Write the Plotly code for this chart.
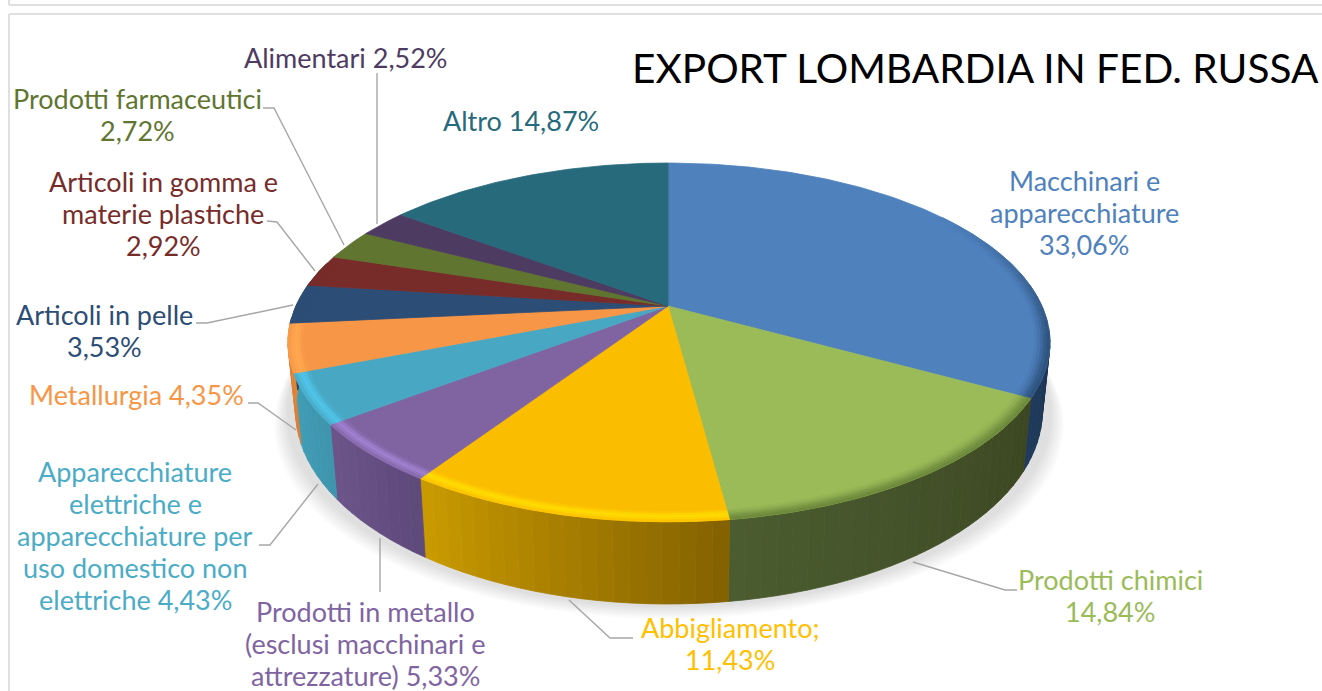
import math
import plotly.graph_objects as go

# ---------- data ----------
categories = ["Macchinari e apparecchiature", "Prodotti chimici", "Abbigliamento",
              "Prodotti in metallo (esclusi macchinari e attrezzature)",
              "Apparecchiature elettriche e apparecchiature per uso domestico non elettriche",
              "Metallurgia", "Articoli in pelle", "Articoli in gomma e materie plastiche",
              "Prodotti farmaceutici", "Alimentari", "Altro"]
values = [33.06, 14.84, 11.43, 5.33, 4.43, 4.35, 3.53, 2.92, 2.72, 2.52, 14.87]
label_templates = ["Macchinari e<br>apparecchiature<br>{}%", "Prodotti chimici<br>{}%",
                   "Abbigliamento;<br>{}%", "Prodotti in metallo<br>(esclusi macchinari e<br>attrezzature) {}%",
                   "Apparecchiature<br>elettriche e<br>apparecchiature per<br>uso domestico non<br>elettriche {}%",
                   "Metallurgia {}%", "Articoli in pelle<br>{}%", "Articoli in gomma e<br>materie plastiche<br>{}%",
                   "Prodotti farmaceutici<br>{}%", "Alimentari {}%", "Altro {}%"]
title_text = "EXPORT LOMBARDIA IN FED. RUSSA"

# ---------- style ----------
top_colors = ["#4F81BD", "#9BBB59", "#FBBD00", "#8064A2", "#48A8C3", "#F79646",
              "#2C4D75", "#772C2A", "#5F7530", "#4D3B62", "#276A7C"]
label_colors = ["#4F81BD", "#9BBB59", "#FFC000", "#8064A2", "#4BACC6", "#F79646",
                "#2C4D75", "#772C2A", "#5F7530", "#4D3B62", "#276A7C"]
side_left = ["#1F3A5C", "#4B5C30", "#C99A00", "#6C5489", "#3F9DB6", "#E0853C",
             "#1F3A5C", "#5A2120", "#47581F", "#3A2C4A", "#1D505E"]
side_right = ["#1C3350", "#3C4722", "#856200", "#5F4A7C", "#3F95AE", "#D97F38",
              "#1F3A5C", "#5A2120", "#47581F", "#3A2C4A", "#1D505E"]
rim_colors = ["#2F5480", "#6E8A3C", "#FFDC00", "#A080D0", "#50C4E8", "#FFA850",
              "#2C4D75", "#772C2A", "#5F7530", "#4D3B62", "#276A7C"]
rim_peak = [False, False, True, True, True, True, False, False, False, False, False]

FONT = "Lato"
LABEL_SIZE = 27
LINE_PITCH = 32
CX, CY, RX, RY, K = 668, 306, 374, 172, 0.203
LEFT_SCALE = 0.995
label_pos = [(1084, 212), (1110, 595), (730, 643), (365, 643), (135, 535), (136, 394),
             (104, 330), (163, 213), (137, 114), (346, 57), (521, 120)]
leaders = [[(377, 73), (377, 224)],
           [(263, 108), (274, 108), (344, 245)],
           [(267, 221), (277, 222), (315, 271)],
           [(196, 323), (207, 323), (293, 305)],
           [(248, 403), (258, 403), (296, 430)],
           [(259, 545), (270, 545), (318, 484)],
           [(380, 538), (380, 592)],
           [(569, 600), (610, 638), (633, 638)],
           [(913, 562), (1005, 590), (1017, 590)]]


def hex2rgb(c):
    return tuple(int(c[i:i + 2], 16) for i in (1, 3, 5))


def mix(a, b, t):
    ra, rb = hex2rgb(a), hex2rgb(b)
    return "#%02X%02X%02X" % tuple(round(x + (y - x) * t) for x, y in zip(ra, rb))


def top(deg, r=1.0):
    a = math.radians(deg)
    u, v = r * math.sin(a), r * math.cos(a)
    d = 1 + K * v
    sx = RX * (LEFT_SCALE if u < 0 else 1.0)
    return CX + sx * u / d, CY - RY * v / d


def bottom(deg, grow=0.0, drop=0.0):
    x, y = top(deg)
    return CX + (x - CX) * (0.98 + grow), y * 1.077 + 42 + drop


def arc(a0, a1, step=1.0):
    n = max(2, int(abs(a1 - a0) / step) + 1)
    return [a0 + (a1 - a0) * i / (n - 1) for i in range(n)]


fig = go.Figure()


def poly(pts, color, opacity=1.0, seam=True):
    fig.add_trace(go.Scatter(
        x=[p[0] for p in pts] + [pts[0][0]], y=[p[1] for p in pts] + [pts[0][1]],
        mode="lines", fill="toself", fillcolor=color, opacity=opacity,
        line=dict(color=color, width=0.8 if seam else 0),
        hoverinfo="skip", showlegend=False))


total = sum(values)
edges = [0.0]
for v in values:
    edges.append(edges[-1] + v / total * 360)

# soft shadow
for i in range(8):
    e = (8 - i) * 0.0045
    poly([bottom(d, grow=0.02 + e, drop=2 + (8 - i) * 1.6) for d in arc(0, 360, 3)],
         "#000000", opacity=0.016, seam=False)

# side wall, visible front part only
VIS0, VIS1 = 97.0, 266.0
for i in range(len(values)):
    a0, a1 = max(edges[i], VIS0), min(edges[i + 1], VIS1)
    if a1 <= a0:
        continue
    cuts = arc(a0, a1, 2.0)
    for j in range(len(cuts) - 1):
        t = j / max(1, len(cuts) - 2)
        s = [cuts[j], cuts[j + 1]]
        pts = [top(d) for d in s] + [bottom(d) for d in reversed(s)]
        poly(pts, mix(side_right[i], side_left[i], t))

# top face
for i in range(len(values)):
    pts = [(CX, CY)] + [top(d) for d in arc(edges[i], edges[i + 1])]
    poly(pts, top_colors[i], seam=True)


def taper(d):
    return max(0.0, min(1.0, (d - 55) / 45, (285 - d) / 25))


# bevelled rim, fading out towards the back of the disc
bands = [0.962, 0.970, 0.978, 0.985, 0.993, 1.0]
for i in range(len(values)):
    a0, a1 = max(edges[i], 55.0), min(edges[i + 1], 285.0)
    if a1 <= a0:
        continue
    profile = [0.25, 0.75, 1.0, 0.7, 0.3] if rim_peak[i] else [0.1, 0.3, 0.55, 0.8, 1.0]
    cuts = arc(a0, a1, 4.0)
    for b in range(5):
        for j in range(len(cuts) - 1):
            s = arc(cuts[j], cuts[j + 1], 1.0)
            w = taper((cuts[j] + cuts[j + 1]) / 2) * profile[b]
            pts = [top(d, bands[b + 1]) for d in s] + [top(d, bands[b]) for d in reversed(s)]
            poly(pts, mix(top_colors[i], rim_colors[i], w))

# leader lines
for seg in leaders:
    fig.add_trace(go.Scatter(x=[p[0] for p in seg], y=[p[1] for p in seg], mode="lines",
                             line=dict(color="#A6A6A6", width=1.4),
                             hoverinfo="skip", showlegend=False))

# labels, one annotation per line to keep the original line pitch
for tpl, v, c, (x, y) in zip(label_templates, values, label_colors, label_pos):
    lines = tpl.format(f"{v:.2f}".replace(".", ",")).split("<br>")
    for n, line in enumerate(lines):
        fig.add_annotation(x=x, y=y + (n - (len(lines) - 1) / 2) * LINE_PITCH, text=line,
                           showarrow=False, font=dict(family=FONT, size=LABEL_SIZE, color=c),
                           xanchor="center", yanchor="middle")
fig.add_annotation(x=975, y=67, text=title_text, showarrow=False,
                   font=dict(family=FONT, size=40.6, color="#000000"),
                   xanchor="center", yanchor="middle")

# page frame lines
frame = dict(color="#E0E0E0", width=2)
fig.add_shape(type="line", x0=9, x1=1322, y0=5, y1=5, line=frame)
fig.add_shape(type="line", x0=9, x1=9, y0=0, y1=5, line=frame)
fig.add_shape(type="line", x0=9, x1=1322, y0=14, y1=14, line=frame)
fig.add_shape(type="line", x0=9, x1=9, y0=14, y1=691, line=frame)

fig.update_layout(width=1322, height=691, margin=dict(l=0, r=0, t=0, b=0),
                  paper_bgcolor="white", plot_bgcolor="white", showlegend=False,
                  xaxis=dict(range=[0, 1322], visible=False, fixedrange=True),
                  yaxis=dict(range=[691, 0], visible=False, fixedrange=True))
fig.write_html("out.html", post_script="document.body.style.margin='0';document.body.style.overflow='hidden';",
               config={"displayModeBar": False})
